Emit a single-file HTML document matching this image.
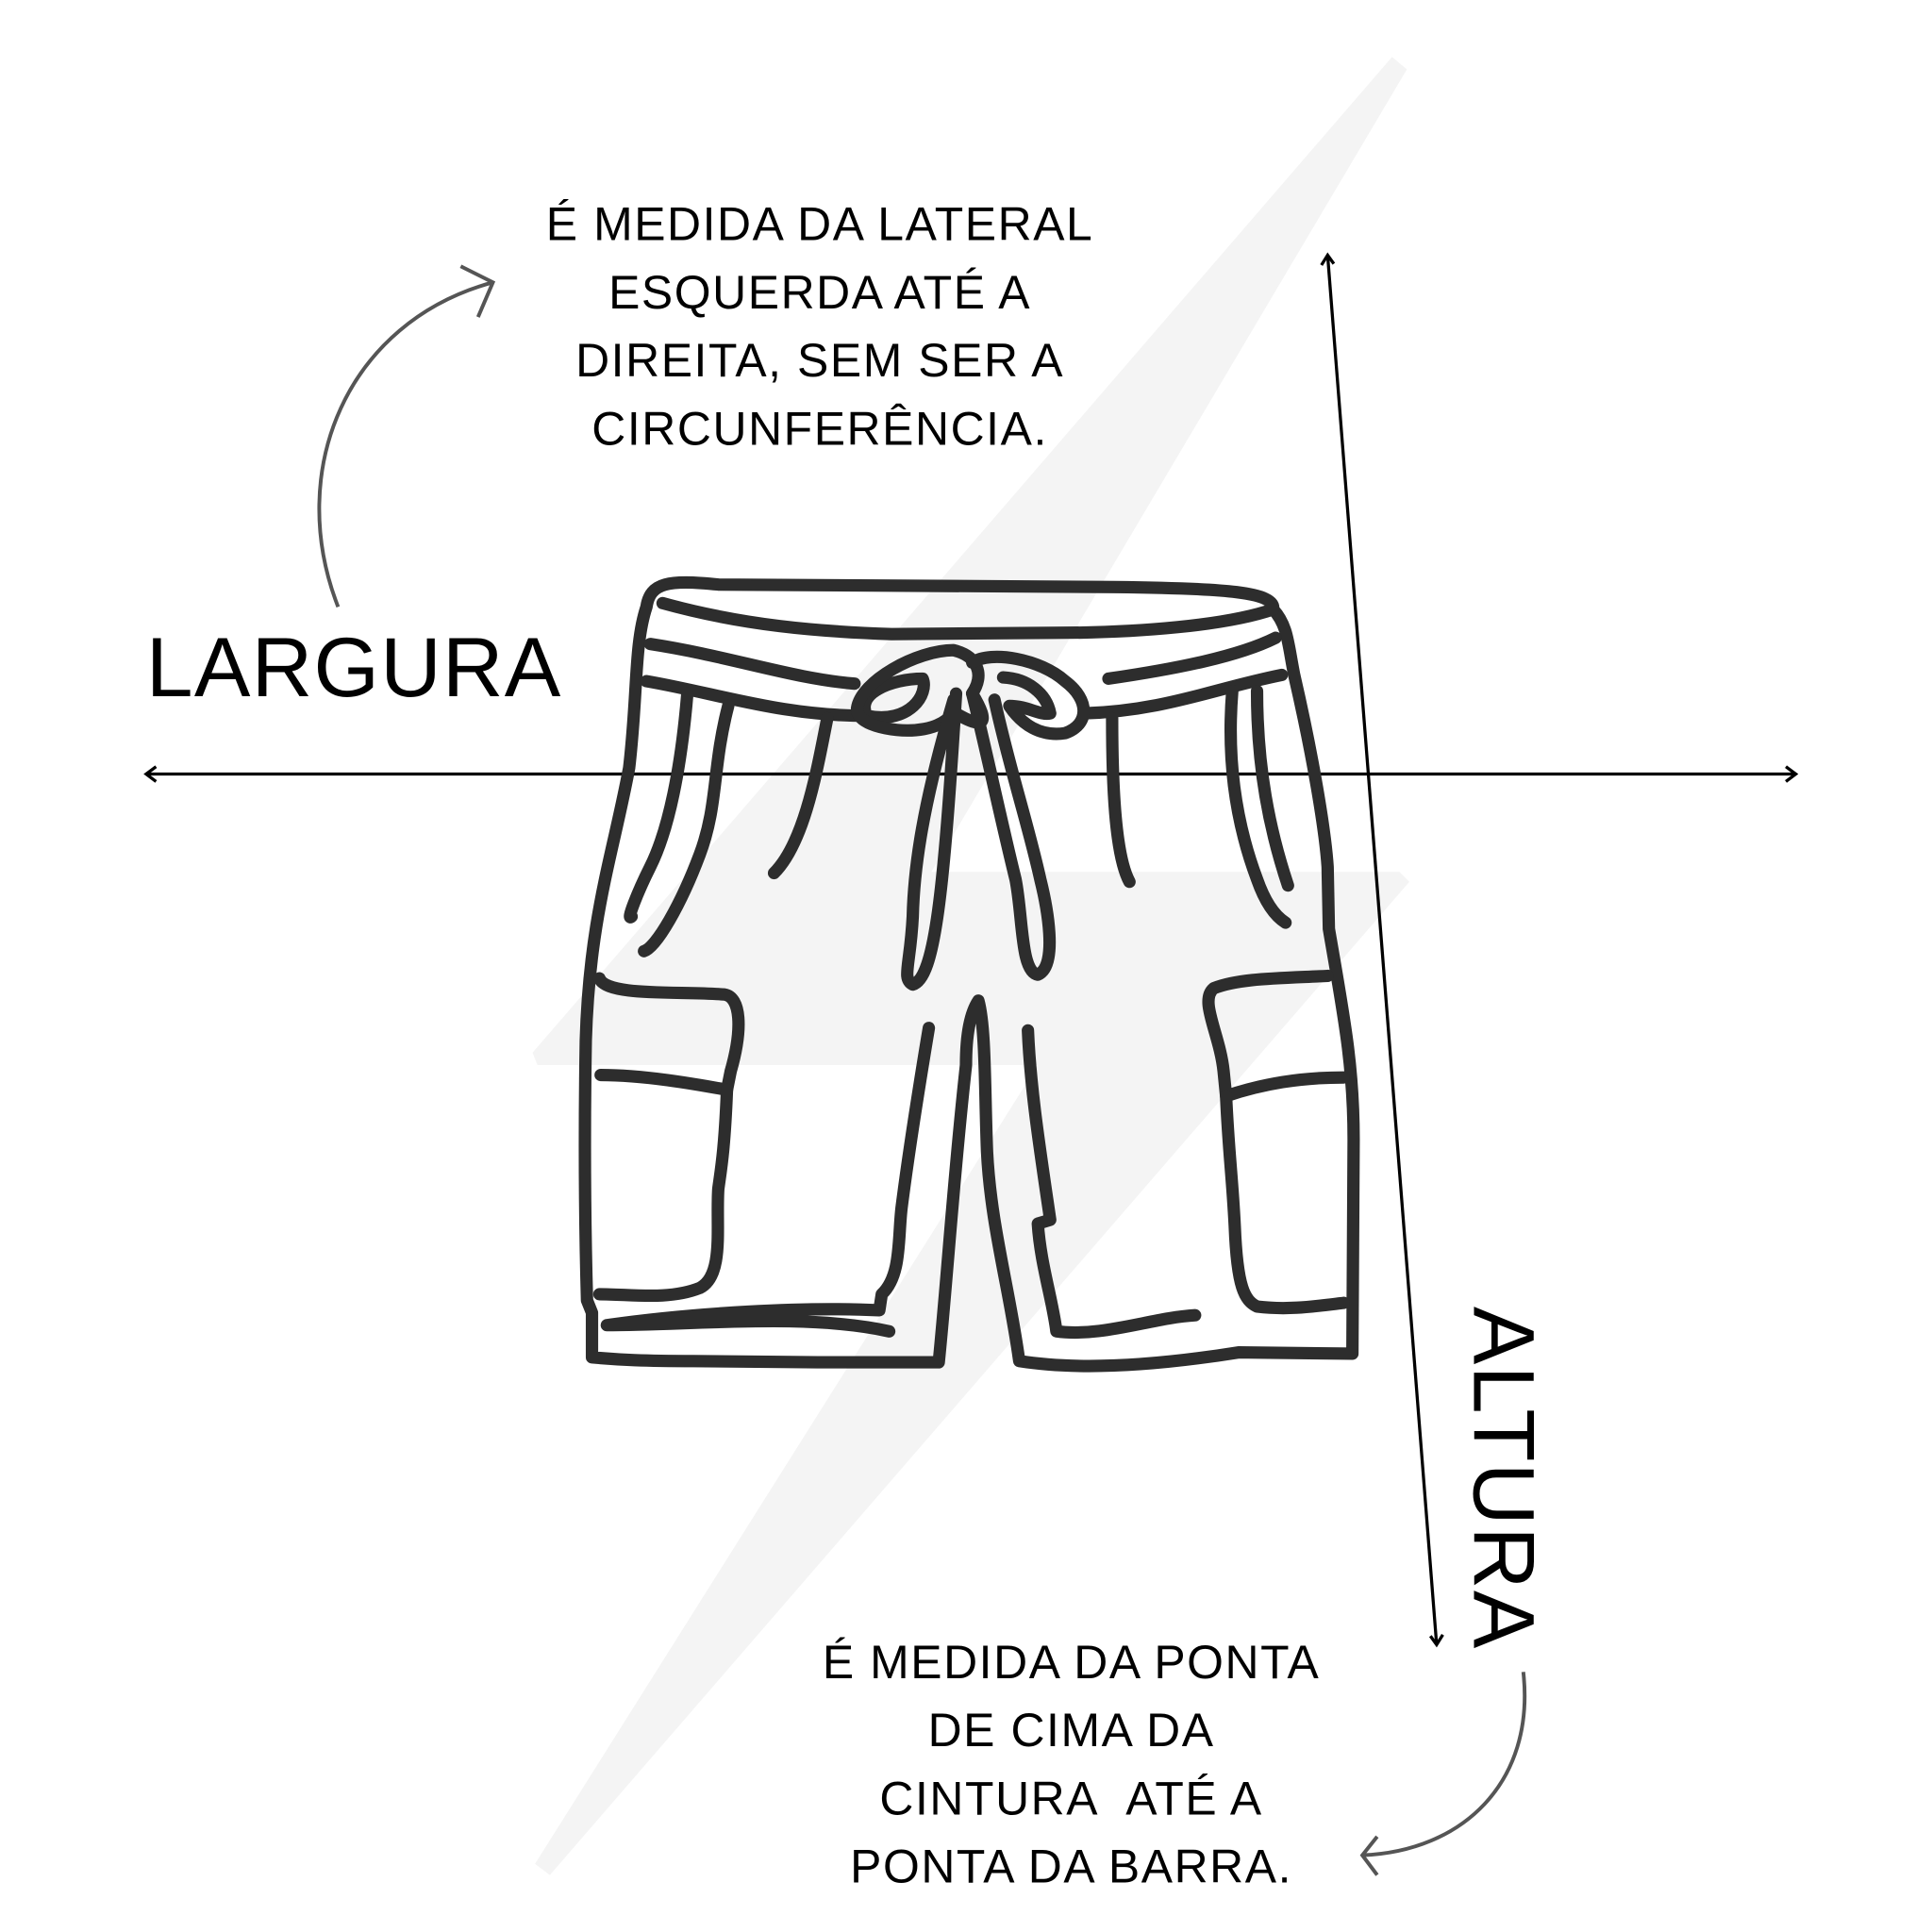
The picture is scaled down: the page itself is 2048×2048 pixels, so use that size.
<!DOCTYPE html>
<html><head><meta charset="utf-8"><style>
html,body{margin:0;padding:0;background:#fff;}
svg{display:block}
text{font-family:"Liberation Sans",sans-serif;fill:#000}
</style></head><body>
<svg width="2048" height="2048" viewBox="0 0 1560 1560" xmlns="http://www.w3.org/2000/svg">
<polygon points="1124,46 1136,56 752,704 1130,704 1138,712 444,1514 432,1505 838,860 434,860 430,850" fill="#f4f4f4"/>
<g font-size="38" text-anchor="middle" letter-spacing="1.2">
<text x="662" y="194">É MEDIDA DA LATERAL</text>
<text x="662" y="249">ESQUERDA ATÉ A</text>
<text x="662" y="304">DIREITA, SEM SER A</text>
<text x="662" y="359">CIRCUNFERÊNCIA.</text>
<text x="865" y="1355">É MEDIDA DA PONTA</text>
<text x="865" y="1410">DE CIMA DA</text>
<text x="865" y="1465">CINTURA&#160; ATÉ A</text>
<text x="865" y="1520">PONTA DA BARRA.</text>
</g>
<text x="118" y="562" font-size="68" letter-spacing="1">LARGURA</text>
<text transform="translate(1190,1055) rotate(90)" font-size="70" letter-spacing="1">ALTURA</text>
<g stroke="#000" stroke-width="2.5" fill="none">
<line x1="118" y1="625" x2="1450" y2="625"/>
<path d="M126,619 L118,625 L126,631 M1442,619 L1450,625 L1442,631"/>
<line x1="1072" y1="206" x2="1160" y2="1328"/>
<path d="M1067,214 L1072,206 L1077,213 M1155,1321 L1160,1328 L1165,1320"/>
</g>
<g stroke="#555" stroke-width="3" fill="none">
<path d="M273,490 C230,380 280,260 398,228"/>
<path d="M372,215 L398,228 L386,256"/>
<path d="M1230,1350 C1240,1440 1180,1495 1100,1498"/>
<path d="M1112,1483 L1100,1498 L1112,1514"/>
</g>
<g stroke="#2d2d2d" stroke-width="10" fill="none" stroke-linecap="round" stroke-linejoin="round">
<path d="M522,490 C525,470 540,468 580,472 L900,474 C990,475 1030,478 1028,492 C1040,505 1040,520 1045,545 C1060,610 1070,670 1072,700 L1073,750 C1085,820 1093,860 1093,920 L1092,1093 L1000,1092 C950,1100 880,1108 823,1099 C815,1040 800,990 797,930 C795,880 796,830 790,808 C782,820 780,840 780,860 C770,950 765,1030 758,1100 L660,1100 L560,1099 C520,1099 500,1098 478,1096 L478,1060 L474,1050 C472,980 472,900 473,840 C476,740 495,690 508,620 C515,560 512,520 522,490 Z"/>
<path d="M535,487 C600,505 660,510 720,512 L850,511 C920,511 990,505 1028,492"/>
<path d="M525,520 C590,530 640,548 690,552"/>
<path d="M522,550 C580,560 630,578 700,578 M875,576 C940,574 980,556 1035,545 M895,548 C950,540 1000,530 1030,515"/>
<path d="M700,578 C690,560 720,548 745,548 C750,560 735,585 700,578 Z"/>
<path d="M692,572 C695,550 740,525 770,525 C790,530 795,545 785,560 C800,585 795,590 770,575 C760,590 735,592 715,588 C700,585 692,580 692,572"/>
<path d="M785,535 C800,525 840,532 860,550 C880,565 880,585 860,592 C840,595 825,585 815,570 C830,570 840,578 848,576 C845,560 830,548 810,547"/>
<path d="M770,565 C745,650 738,700 737,740 C735,780 728,790 737,795 C755,790 762,720 772,560"/>
<path d="M785,560 C795,600 810,670 820,710 C826,740 824,785 838,787 C855,780 845,730 840,710 C830,665 815,620 803,565"/>
<path d="M555,560 C550,620 540,670 525,700 C515,720 505,745 510,740"/>
<path d="M588,570 C575,620 580,650 565,690 C550,730 530,765 520,768"/>
<path d="M668,580 C660,620 650,680 625,705"/>
<path d="M898,580 C898,630 900,690 912,712"/>
<path d="M995,558 C990,620 1000,670 1015,710 C1022,730 1030,740 1038,745"/>
<path d="M1015,558 C1015,620 1025,670 1040,715"/>
<path d="M484,790 C490,805 550,800 585,803 C598,805 600,830 590,865 L587,880 C560,875 520,868 485,868"/>
<path d="M587,880 C585,930 582,945 580,960 C578,990 585,1030 565,1040 C540,1050 510,1045 484,1045"/>
<path d="M1072,788 C1030,790 1000,790 980,798 C968,808 985,835 988,865 L990,885 C1020,875 1050,870 1085,870"/>
<path d="M990,885 C992,930 995,950 997,990 C999,1040 1005,1050 1015,1055 C1040,1058 1060,1055 1085,1052"/>
<path d="M750,830 C745,860 735,920 728,975 C725,1000 728,1030 712,1045 L710,1058 C650,1055 560,1060 490,1070 C560,1070 650,1060 718,1075"/>
<path d="M830,832 C832,880 840,930 848,985 L838,988 C840,1020 850,1050 853,1075 C890,1080 930,1064 965,1062"/>
</g>
</svg>
</body></html>
